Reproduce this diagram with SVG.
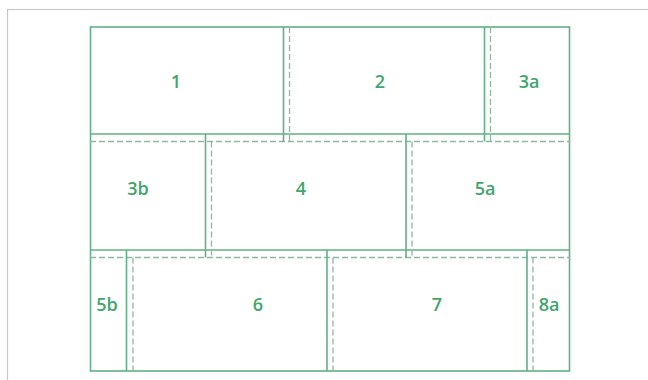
<svg xmlns="http://www.w3.org/2000/svg" width="648" height="380" viewBox="0 0 648 380">
<style>
.frame{fill:none;stroke:#c8c8c8;stroke-width:1.2}
.s{stroke:#5fb283;stroke-width:1.6;fill:none}
.d{stroke:#8fb8a0;stroke-width:1.3;stroke-dasharray:6,3;fill:none}
.t{font-family:"Open Sans","Liberation Sans",sans-serif;font-size:18px;font-weight:600;fill:#42a56e;text-anchor:middle}
</style>
<rect width="648" height="380" fill="#ffffff"/>
<rect class="frame" x="7.5" y="9.5" width="700" height="400"/>
<g id="connectors">
<rect class="s" x="90.5" y="27" width="479" height="344"/>
<line class="s" x1="90" y1="134" x2="570" y2="134"/>
<line class="d" x1="90" y1="141.5" x2="570" y2="141.5"/>
<line class="s" x1="90" y1="250" x2="570" y2="250"/>
<line class="d" x1="90" y1="257.5" x2="570" y2="257.5"/>
<line class="s" x1="283.5" y1="27" x2="283.5" y2="141.5"/>
<line class="d" x1="289.5" y1="27" x2="289.5" y2="141.5"/>
<line class="s" x1="484.5" y1="27" x2="484.5" y2="141.5"/>
<line class="d" x1="490.5" y1="27" x2="490.5" y2="141.5"/>
<line class="s" x1="205.5" y1="134" x2="205.5" y2="257.5"/>
<line class="d" x1="211.5" y1="141.5" x2="211.5" y2="257.5"/>
<line class="s" x1="406" y1="134" x2="406" y2="257.5"/>
<line class="d" x1="412" y1="141.5" x2="412" y2="257.5"/>
<line class="s" x1="126.5" y1="250" x2="126.5" y2="371"/>
<line class="d" x1="133" y1="257.5" x2="133" y2="371"/>
<line class="s" x1="327" y1="250" x2="327" y2="371"/>
<line class="d" x1="333" y1="257.5" x2="333" y2="371"/>
<line class="s" x1="527" y1="250" x2="527" y2="371"/>
<line class="d" x1="533" y1="257.5" x2="533" y2="371"/>
</g>
<g id="n1"><text class="t" x="176" y="88">1</text></g>
<g id="n2"><text class="t" x="380" y="88">2</text></g>
<g id="n3a"><text class="t" x="529" y="88">3a</text></g>
<g id="n3b"><text class="t" x="138" y="195">3b</text></g>
<g id="n4"><text class="t" x="301" y="195">4</text></g>
<g id="n5a"><text class="t" x="485" y="195">5a</text></g>
<g id="n5b"><text class="t" x="107" y="311">5b</text></g>
<g id="n6"><text class="t" x="258" y="311">6</text></g>
<g id="n7"><text class="t" x="437" y="311">7</text></g>
<g id="n8a"><text class="t" x="549" y="311">8a</text></g>
</svg>
